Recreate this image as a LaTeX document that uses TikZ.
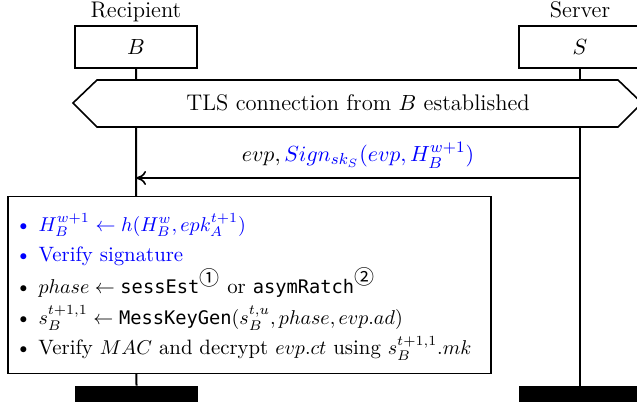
\documentclass[tikz,border=0pt]{standalone}
\usepackage{fontspec}
\usepackage{amsmath}
\usetikzlibrary{arrows.meta}
\newfontfamily\monof{DejaVu Sans Mono}[Scale=0.9]
\newfontfamily\cjkf{Noto Sans CJK SC}
\newcommand{\mf}[1]{\text{\monof #1}}
\newcommand{\cnum}[1]{^{\text{\cjkf\fontsize{10}{10}\selectfont #1}}}
\begin{document}
\begin{tikzpicture}[x=0.5pt,y=-0.5pt,
  every node/.style={font=\fontsize{11.3}{15}\selectfont},
  actor/.style={draw,line width=0.8pt,fill=white,minimum width=61pt,minimum height=21pt,inner sep=0pt},
  hdr/.style={anchor=base,inner sep=0pt},
  lifeline/.style={line width=1pt},
  bar/.style={fill=black,draw=none,minimum width=61.5pt,minimum height=8pt,inner sep=0pt},
  frame/.style={draw,line width=0.8pt,fill=white},
  boxtext/.style={anchor=west,align=left,inner sep=0pt,font=\fontsize{10.4}{15.2}\selectfont},
  msg/.style={line width=0.8pt,-{To[length=5pt,width=7pt]}}]
\useasboundingbox (0,0) rectangle (637,406);
% headers
\node[hdr] (Blab) at (136,18) {Recipient};
\node[hdr] (Slab) at (580,18) {Server};
\node[actor] (B) at (136,47) {$B$};
\node[actor] (S) at (580,47) {$S$};
% end bars
\node[bar] (Bend) at (136.5,394) {};
\node[bar] (Send) at (580,394) {};
% lifelines
\draw[lifeline] (B.south) -- (Bend.north);
\draw[lifeline] (S.south) -- (Send.north);
% TLS hexagon
\draw[frame] (73,103) -- (97,80) -- (618,80) -- (642,103) -- (618,127) -- (97,127) -- cycle;
\node[inner sep=0pt] (tls) at (358,103) {TLS connection from $B$ established};
% message
\coordinate (m1) at (580,178);
\coordinate (m2) at (136,178);
\draw[msg] (m1) -- (m2);
\node[inner sep=0pt] (mlab) at (358,155) {$evp,{\color{blue}Sign_{sk_S}(evp,H_B^{w+1})}$};
% action box
\node[frame,minimum width=241.5pt,minimum height=88.5pt,inner sep=0pt] (act) at (249.5,285) {};
\node[boxtext] (acttxt) at (15,287) {%
{\color{blue}\textbullet\ $H_B^{w+1}\leftarrow h(H_B^{w},epk_A^{t+1})$}\\
{\color{blue}\textbullet\ Verify signature}\\
\textbullet\ $phase\leftarrow\mf{sessEst}\cnum{①}$ or $\mf{asymRatch}\cnum{②}$\\
\textbullet\ $s_B^{t+1,1}\leftarrow\mf{MessKeyGen}(s_B^{t,u},phase,evp.ad)$\\
\textbullet\ Verify $MAC$ and decrypt $evp.ct$ using $s_B^{t+1,1}.mk$};
\end{tikzpicture}
\end{document}
